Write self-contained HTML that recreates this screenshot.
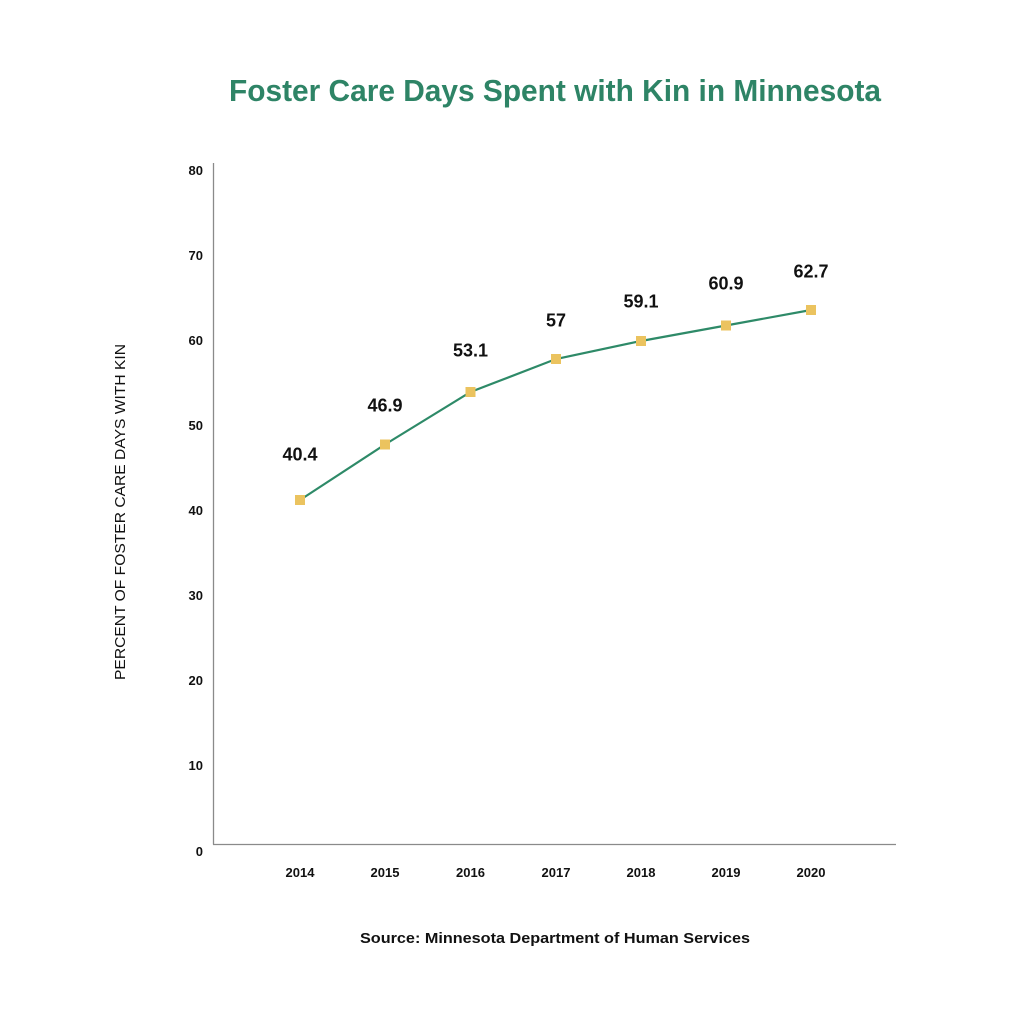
<!DOCTYPE html>
<html>
<head>
<meta charset="utf-8">
<style>
html,body{margin:0;padding:0;background:#fff;}
svg{display:block;}
text{font-family:"Liberation Sans",Arial,sans-serif;}
</style>
</head>
<body>
<svg width="1024" height="1024" viewBox="0 0 1024 1024" xmlns="http://www.w3.org/2000/svg">
<rect width="1024" height="1024" fill="#fff"/>
<!-- Title -->
<text x="555" y="101" text-anchor="middle" font-size="31" font-weight="bold" fill="#2e8466" textLength="652" lengthAdjust="spacingAndGlyphs">Foster Care Days Spent with Kin in Minnesota</text>

<!-- Axes -->
<line x1="213.5" y1="163" x2="213.5" y2="844.5" stroke="#8a8a8a" stroke-width="1.3"/>
<line x1="213" y1="844.5" x2="896" y2="844.5" stroke="#8a8a8a" stroke-width="1.3"/>

<!-- Y tick labels -->
<g font-size="13" font-weight="bold" fill="#111" text-anchor="end">
<text x="203" y="175">80</text>
<text x="203" y="260">70</text>
<text x="203" y="345">60</text>
<text x="203" y="430">50</text>
<text x="203" y="515">40</text>
<text x="203" y="600">30</text>
<text x="203" y="685">20</text>
<text x="203" y="770">10</text>
<text x="203" y="856">0</text>
</g>

<!-- X tick labels -->
<g font-size="13" font-weight="bold" fill="#111" text-anchor="middle">
<text x="300" y="877">2014</text>
<text x="385" y="877">2015</text>
<text x="470.5" y="877">2016</text>
<text x="556" y="877">2017</text>
<text x="641" y="877">2018</text>
<text x="726" y="877">2019</text>
<text x="811" y="877">2020</text>
</g>

<!-- Y axis title -->
<text transform="translate(125,512) rotate(-90)" text-anchor="middle" font-size="14.5" fill="#111" textLength="336" lengthAdjust="spacingAndGlyphs">PERCENT OF FOSTER CARE DAYS WITH KIN</text>

<!-- Line -->
<polyline fill="none" stroke="#2e8a68" stroke-width="2.2" points="300,500 385,444.5 470.5,392 556,359 641,341 726,325.5 811,310"/>

<!-- Markers -->
<g fill="#ebc35f">
<rect x="295" y="495" width="10" height="10"/>
<rect x="380" y="439.5" width="10" height="10"/>
<rect x="465.5" y="387" width="10" height="10"/>
<rect x="551" y="354" width="10" height="10"/>
<rect x="636" y="336" width="10" height="10"/>
<rect x="721" y="320.5" width="10" height="10"/>
<rect x="806" y="305" width="10" height="10"/>
</g>

<!-- Data labels -->
<g font-size="18" font-weight="bold" fill="#111" text-anchor="middle">
<text x="300" y="460.5">40.4</text>
<text x="385" y="411.5">46.9</text>
<text x="470.5" y="356.5">53.1</text>
<text x="556" y="326.5">57</text>
<text x="641" y="307.5">59.1</text>
<text x="726" y="289.5">60.9</text>
<text x="811" y="277.5">62.7</text>
</g>

<!-- Source -->
<text x="555" y="943" text-anchor="middle" font-size="15" font-weight="bold" fill="#111" textLength="390" lengthAdjust="spacingAndGlyphs">Source: Minnesota Department of Human Services</text>
</svg>
</body>
</html>
